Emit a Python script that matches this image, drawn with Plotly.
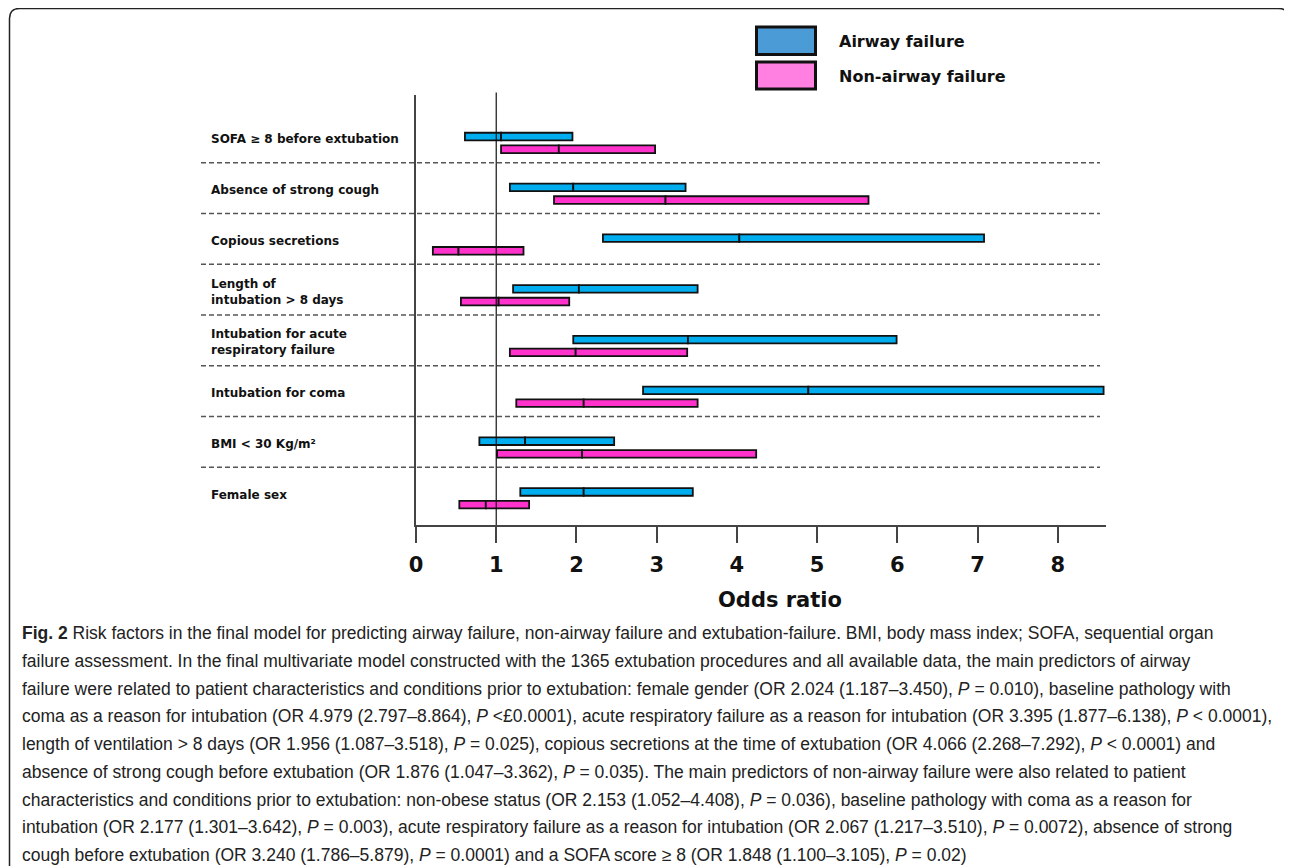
import plotly.graph_objects as go

# ---------------- data ----------------
categories = [
    "SOFA ≥ 8 before extubation",
    "Absence of strong cough",
    "Copious secretions",
    "Length of<br>intubation > 8 days",
    "Intubation for acute<br>respiratory failure",
    "Intubation for coma",
    "BMI < 30 Kg/m²",
    "Female sex",
]
airway_or = [1.06, 1.96, 4.03, 2.03, 3.39, 4.89, 1.36, 2.09]
airway_lo = [0.61, 1.17, 2.33, 1.21, 1.96, 2.83, 0.79, 1.30]
airway_hi = [1.95, 3.36, 7.08, 3.51, 5.99, 8.57, 2.47, 3.45]
nonairway_or = [1.78, 3.11, 0.53, 1.03, 1.99, 2.09, 2.07, 0.87]
nonairway_lo = [1.06, 1.72, 0.21, 0.56, 1.17, 1.25, 1.01, 0.54]
nonairway_hi = [2.98, 5.64, 1.34, 1.91, 3.38, 3.51, 4.24, 1.41]
x_ticks = [0, 1, 2, 3, 4, 5, 6, 7, 8]
legend_names = ["Airway failure", "Non-airway failure"]

caption_lines = [
    "<b>Fig. 2</b> Risk factors in the final model for predicting airway failure, non-airway failure and extubation-failure. BMI, body mass index; SOFA, sequential organ",
    "failure assessment. In the final multivariate model constructed with the 1365 extubation procedures and all available data, the main predictors of airway",
    "failure were related to patient characteristics and conditions prior to extubation: female gender (OR 2.024 (1.187–3.450), <i>P</i> = 0.010), baseline pathology with",
    "coma as a reason for intubation (OR 4.979 (2.797–8.864), <i>P</i> <£0.0001), acute respiratory failure as a reason for intubation (OR 3.395 (1.877–6.138), <i>P</i> < 0.0001),",
    "length of ventilation > 8 days (OR 1.956 (1.087–3.518), <i>P</i> = 0.025), copious secretions at the time of extubation (OR 4.066 (2.268–7.292), <i>P</i> < 0.0001) and",
    "absence of strong cough before extubation (OR 1.876 (1.047–3.362), <i>P</i> = 0.035). The main predictors of non-airway failure were also related to patient",
    "characteristics and conditions prior to extubation: non-obese status (OR 2.153 (1.052–4.408), <i>P</i> = 0.036), baseline pathology with coma as a reason for",
    "intubation (OR 2.177 (1.301–3.642), <i>P</i> = 0.003), acute respiratory failure as a reason for intubation (OR 2.067 (1.217–3.510), <i>P</i> = 0.0072), absence of strong",
    "cough before extubation (OR 3.240 (1.786–5.879), <i>P</i> = 0.0001) and a SOFA score ≥ 8 (OR 1.848 (1.100–3.105), <i>P</i> = 0.02)",
]

# ---------------- layout geometry (page pixels; page has an 8px body margin) ----------------
OFF = 8
W, H = 1292 - OFF, 866 - OFF
L, R, T, B = 416, 1106, 95, 525  # plot area in page pixels


def px_x(px):
    return (px - L) / (R - L)


def px_y(py):
    return (B - py) / (B - T)


BAR_BLUE = "#00AEEF"
BAR_PINK = "#FF33CC"
LEG_BLUE = "#4A9BD6"
LEG_PINK = "#FF80E0"
FONT = "DejaVu Sans"

fig = go.Figure()

series = [
    (legend_names[0], airway_lo, airway_or, airway_hi, BAR_BLUE, -0.09),
    (legend_names[1], nonairway_lo, nonairway_or, nonairway_hi, BAR_PINK, 0.16),
]
for name, lo, mid, hi, color, off in series:
    common = dict(
        y=categories, orientation="h", width=0.15, offset=off,
        marker=dict(color=color, line=dict(color="#111111", width=1.8)),
        showlegend=False, name=name,
    )
    fig.add_trace(go.Bar(base=lo, x=[m - l for m, l in zip(mid, lo)], **common))
    fig.add_trace(go.Bar(base=mid, x=[h - m for h, m in zip(hi, mid)], **common))

shapes = []
# reference line at OR = 1
shapes.append(dict(type="line", xref="x", yref="paper", x0=1, x1=1, y0=0, y1=1.006,
                   line=dict(color="#111111", width=1.2)))
# dashed separators between categories
for i in range(len(categories) - 1):
    shapes.append(dict(type="line", xref="paper", yref="y",
                       x0=px_x(201), x1=px_x(1100), y0=i + 0.5, y1=i + 0.5,
                       line=dict(color="#555555", width=1.5, dash="5px,3px")))
# legend boxes
shapes.append(dict(type="rect", xref="paper", yref="paper",
                   x0=px_x(756.5), x1=px_x(815.5), y0=px_y(54.5), y1=px_y(27),
                   fillcolor=LEG_BLUE, line=dict(color="#111111", width=3)))
shapes.append(dict(type="rect", xref="paper", yref="paper",
                   x0=px_x(756.5), x1=px_x(815.5), y0=px_y(89), y1=px_y(62),
                   fillcolor=LEG_PINK, line=dict(color="#111111", width=3)))
# rounded outer frame
fx0, fy0, fx1, fy1, rr = 9.5, 8.5, 1288.5, 870, 10
pts = [
    ("M", fx0, fy1), ("L", fx0, fy0 + rr), ("Q", fx0, fy0, fx0 + rr, fy0),
    ("L", fx1 - rr, fy0), ("Q", fx1, fy0, fx1, fy0 + rr), ("L", fx1, fy1),
]
path = ""
for p in pts:
    cmd = p[0]
    coords = p[1:]
    segs = []
    for j in range(0, len(coords), 2):
        segs.append(f"{px_x(coords[j]):.5f},{px_y(coords[j + 1]):.5f}")
    path += cmd + " " + " ".join(segs) + " "
shapes.append(dict(type="path", xref="paper", yref="paper", path=path.strip(),
                   line=dict(color="#222222", width=1.5)))

annotations = []
for cat in categories:
    annotations.append(dict(xref="paper", yref="y", x=px_x(209), y=cat, xanchor="left",
                            yanchor="middle", yshift=-2, text=cat, showarrow=False, align="left",
                            font=dict(family=FONT, size=12, color="#111111", weight="bold")))
annotations.append(dict(xref="paper", yref="paper", x=px_x(837), y=px_y(41.5), xanchor="left",
                        yanchor="middle", text=legend_names[0], showarrow=False,
                        font=dict(family=FONT, size=16, color="#111111", weight="bold")))
annotations.append(dict(xref="paper", yref="paper", x=px_x(837), y=px_y(76.5), xanchor="left",
                        yanchor="middle", text=legend_names[1], showarrow=False,
                        font=dict(family=FONT, size=16, color="#111111", weight="bold")))
annotations.append(dict(xref="paper", yref="paper", x=px_x(780), y=px_y(600), xanchor="center",
                        yanchor="middle", text="Odds ratio", showarrow=False,
                        font=dict(family=FONT, size=21, color="#111111", weight="bold")))
for i, line in enumerate(caption_lines):
    annotations.append(dict(xref="paper", yref="paper", x=px_x(20), y=px_y(633 + 27.75 * i),
                            xanchor="left", yanchor="middle", text=line, showarrow=False,
                            font=dict(family="Liberation Sans", size=17.5, color="#222222")))

fig.update_layout(
    width=W, height=H,
    margin=dict(l=L - OFF, r=W - (R - OFF), t=T - OFF, b=H - (B - OFF), pad=0),
    paper_bgcolor="white", plot_bgcolor="white",
    barmode="overlay",
    showlegend=False,
    shapes=shapes,
    annotations=annotations,
    xaxis=dict(range=[0, 8.6], tickvals=x_ticks, ticktext=[str(v) for v in x_ticks],
               showline=True, linecolor="#444444", linewidth=1.5, ticks="outside",
               ticklen=16, tickwidth=1.5, tickcolor="#444444", showgrid=False,
               zeroline=False, ticklabelstandoff=4,
               tickfont=dict(family=FONT, size=21, color="#111111", weight="bold")),
    yaxis=dict(type="category", categoryorder="array", categoryarray=categories,
               range=[7.636, -0.834], showline=True, linecolor="#444444", linewidth=1.5,
               showgrid=False, zeroline=False, showticklabels=False, ticks=""),
)

fig.write_html("out.html")
